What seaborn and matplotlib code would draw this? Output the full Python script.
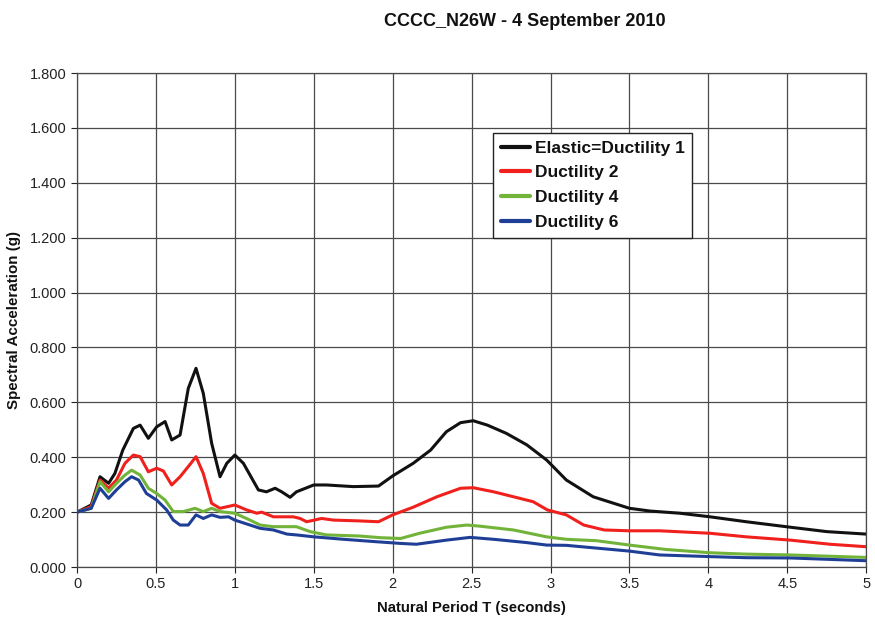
import matplotlib
matplotlib.use("Agg")
import matplotlib.pyplot as plt
import seaborn as sns
import pandas as pd

# Response spectra, CCCC station, N26W component
period_elastic = [0.0, 0.09, 0.146, 0.2, 0.24, 0.29, 0.357, 0.40, 0.452, 0.505, 0.558, 0.60, 0.653,
                  0.705, 0.754, 0.80, 0.853, 0.906, 0.949, 1.0, 1.054, 1.149, 1.20, 1.255, 1.297,
                  1.35, 1.39, 1.50, 1.58, 1.75, 1.91, 2.0, 2.13, 2.24, 2.34, 2.43, 2.51, 2.60,
                  2.72, 2.85, 2.975, 3.10, 3.27, 3.50, 3.63, 3.82, 4.01, 4.24, 4.52, 4.75, 5.0]
sa_elastic = [0.20, 0.226, 0.329, 0.305, 0.341, 0.426, 0.505, 0.517, 0.469, 0.511, 0.530, 0.463, 0.481,
              0.651, 0.724, 0.633, 0.451, 0.329, 0.378, 0.408, 0.378, 0.281, 0.274, 0.287, 0.274,
              0.254, 0.274, 0.299, 0.299, 0.293, 0.295, 0.332, 0.378, 0.426, 0.493, 0.526, 0.533, 0.517,
              0.487, 0.445, 0.390, 0.317, 0.256, 0.214, 0.204, 0.196, 0.183, 0.165, 0.145, 0.129, 0.120]

period_mu2 = [0.0, 0.09, 0.146, 0.2, 0.25, 0.304, 0.357, 0.40, 0.452, 0.505, 0.547, 0.60, 0.653,
              0.705, 0.754, 0.80, 0.853, 0.906, 1.0, 1.075, 1.139, 1.17, 1.244, 1.37, 1.413, 1.455,
              1.55, 1.625, 1.79, 1.91, 2.0, 2.13, 2.28, 2.43, 2.51, 2.64, 2.765, 2.89, 2.98, 3.10,
              3.21, 3.34, 3.50, 3.69, 4.01, 4.24, 4.52, 4.77, 5.0]
sa_mu2 = [0.20, 0.220, 0.317, 0.287, 0.317, 0.378, 0.408, 0.402, 0.347, 0.360, 0.350, 0.299, 0.329,
          0.366, 0.402, 0.341, 0.232, 0.214, 0.226, 0.208, 0.196, 0.200, 0.183, 0.183, 0.177, 0.165,
          0.177, 0.171, 0.168, 0.165, 0.190, 0.218, 0.256, 0.287, 0.289, 0.274, 0.256, 0.238, 0.208, 0.190,
          0.153, 0.135, 0.132, 0.132, 0.123, 0.110, 0.098, 0.083, 0.074]

period_mu4 = [0.0, 0.09, 0.146, 0.2, 0.25, 0.304, 0.346, 0.40, 0.452, 0.505, 0.558, 0.61, 0.674,
              0.748, 0.80, 0.853, 0.906, 1.0, 1.096, 1.16, 1.244, 1.39, 1.477, 1.58, 1.79, 1.92,
              2.05, 2.17, 2.34, 2.47, 2.55, 2.765, 2.975, 3.10, 3.29, 3.50, 3.73, 4.01, 4.24,
              4.52, 5.0]
sa_mu4 = [0.20, 0.214, 0.311, 0.274, 0.305, 0.335, 0.353, 0.335, 0.287, 0.268, 0.244, 0.202, 0.202,
          0.214, 0.202, 0.214, 0.202, 0.196, 0.171, 0.153, 0.147, 0.147, 0.129, 0.117, 0.113, 0.107,
          0.104, 0.123, 0.145, 0.153, 0.149, 0.135, 0.110, 0.101, 0.096, 0.080, 0.064, 0.052, 0.047,
          0.044, 0.035]

period_mu6 = [0.0, 0.09, 0.146, 0.2, 0.25, 0.304, 0.346, 0.39, 0.44, 0.505, 0.568, 0.61, 0.653,
              0.705, 0.754, 0.80, 0.853, 0.906, 0.96, 1.0, 1.096, 1.16, 1.244, 1.33, 1.39, 1.50,
              1.69, 1.90, 2.05, 2.15, 2.34, 2.49, 2.64, 2.85, 2.975, 3.10, 3.31, 3.50, 3.69, 4.01,
              4.24, 4.52, 5.0]
sa_mu6 = [0.20, 0.214, 0.287, 0.250, 0.281, 0.311, 0.329, 0.317, 0.268, 0.244, 0.208, 0.171, 0.153,
          0.153, 0.190, 0.177, 0.190, 0.181, 0.183, 0.171, 0.153, 0.141, 0.135, 0.120, 0.117, 0.110,
          0.101, 0.092, 0.086, 0.083, 0.098, 0.108, 0.101, 0.089, 0.080, 0.079, 0.068, 0.058, 0.044, 0.038,
          0.034, 0.033, 0.023]

series_names = ["Elastic=Ductility 1", "Ductility 2", "Ductility 4", "Ductility 6"]
series_colors = ["#111111", "#f0201c", "#72b33a", "#1f3f97"]

frames = []
for name, t, sa in zip(series_names,
                       [period_elastic, period_mu2, period_mu4, period_mu6],
                       [sa_elastic, sa_mu2, sa_mu4, sa_mu6]):
    frames.append(pd.DataFrame({"T": t, "Sa": sa, "series": name}))
df = pd.concat(frames, ignore_index=True)

sns.set_style("white")
plt.rcParams["font.family"] = ["Liberation Sans", "DejaVu Sans"]
plt.rcParams["text.color"] = "#111111"
plt.rcParams["axes.labelcolor"] = "#111111"

fig = plt.figure(figsize=(8.75, 6.24), dpi=100)
ax = fig.add_axes([0.088, 0.0913, 0.902, 0.7917])

sns.lineplot(data=df, x="T", y="Sa", hue="series", hue_order=series_names,
             palette=series_colors, estimator=None, sort=False, linewidth=2.2, ax=ax)

ax.set_xlim(0, 5)
ax.set_ylim(0, 1.8)
ax.set_xticks([0, 0.5, 1, 1.5, 2, 2.5, 3, 3.5, 4, 4.5, 5])
ax.set_xticklabels(["0", "0.5", "1", "1.5", "2", "2.5", "3", "3.5", "4", "4.5", "5"])
yt = [0.0, 0.2, 0.4, 0.6, 0.8, 1.0, 1.2, 1.4, 1.6, 1.8]
ax.set_yticks(yt)
ax.set_yticklabels([f"{v:.3f}" for v in yt])
ax.tick_params(axis="both", labelsize=10.5, colors="#222222", length=4, width=0.8, direction="out",
               left=True, bottom=True)
ax.grid(True, color="#4a4a4a", linewidth=0.9)
for s in ax.spines.values():
    s.set_color("#4a4a4a")
    s.set_linewidth(0.9)

ax.set_xlabel("Natural Period T (seconds)", fontsize=10.7, fontweight="bold", labelpad=7)
ax.set_ylabel("Spectral Acceleration (g)", fontsize=10.9, fontweight="bold", labelpad=6)

fig.text(0.600, 0.966, "CCCC_N26W - 4 September 2010", ha="center", va="center",
         fontsize=13, fontweight="bold")

leg = ax.legend(loc="upper left", bbox_to_anchor=(0.527, 0.879), frameon=True, fancybox=False,
                fontsize=12.5, handlelength=1.7, handletextpad=0.25, borderpad=0.45,
                labelspacing=0.55, borderaxespad=0)
leg.get_frame().set_edgecolor("#222222")
leg.get_frame().set_linewidth(1.0)
leg.get_frame().set_alpha(1)
for txt in leg.get_texts():
    txt.set_fontweight("bold")
for line in leg.get_lines():
    line.set_linewidth(3.0)

fig.savefig("out.png", dpi=100)
